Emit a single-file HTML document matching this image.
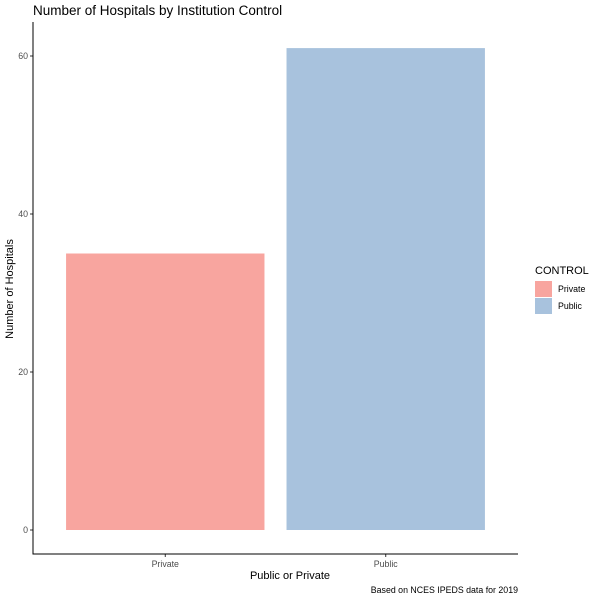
<!DOCTYPE html>
<html><head><meta charset="utf-8"><style>
html,body{margin:0;padding:0;background:#fff;}
svg{display:block;font-family:"Liberation Sans",Arial,sans-serif;}
</style></head><body>
<svg id="chart" width="600" height="600">
<text x="33" y="15" font-size="13.5" fill="#000">Number of Hospitals by Institution Control</text>
<g id="plot"></g>
<text x="290" y="579" font-size="11" text-anchor="middle">Public or Private</text>
<text transform="translate(13,289) rotate(-90)" font-size="11" text-anchor="middle">Number of Hospitals</text>
<text x="518" y="593" font-size="8.8" text-anchor="end">Based on NCES IPEDS data for 2019</text>
<g>
<text x="535" y="274" font-size="11">CONTROL</text>
<g id="legend-items"></g>
</g>
</svg>
<script>
const categories = ["Private", "Public"];
const values = [35, 61];
const colors = ["#F8A59F", "#A8C2DD"];
const yTicks = [0, 20, 40, 60];

const NS = "http://www.w3.org/2000/svg";
const plotG = document.getElementById("plot");
const plotLeft = 33, plotRight = 518, yZero = 530, pxPerUnit = 7.9, plotBottom = 554, plotTop = 22;
function yScale(v){ return yZero - v * pxPerUnit; }
const band = (plotRight - plotLeft) / (categories.length + 0.2);
function xCenter(i){ return plotLeft + band * 0.6 + band * i; }
const barW = band * 0.9;

function mk(tag, attrs){ const e = document.createElementNS(NS, tag); for (const k in attrs) e.setAttribute(k, attrs[k]); return e; }

categories.forEach((c, i) => {
  const r = mk("rect", {x: xCenter(i) - barW/2, y: yScale(values[i]), width: barW, height: yScale(0) - yScale(values[i]), fill: colors[i]});
  
  
  plotG.appendChild(r);
  const t = mk("line", {x1: xCenter(i), x2: xCenter(i), y1: plotBottom, y2: plotBottom + 3, stroke: "#333"});
  
  
  plotG.appendChild(t);
  const l = mk("text", {x: xCenter(i), y: plotBottom + 13, "font-size": "8.8", fill: "#4d4d4d", "text-anchor": "middle"});
  l.textContent = c;
  
  
  plotG.appendChild(l);
});
yTicks.forEach(v => {
  const t = mk("line", {x1: plotLeft - 3, x2: plotLeft, y1: yScale(v), y2: yScale(v), stroke: "#333"});
  
  
  plotG.appendChild(t);
  const l = mk("text", {x: plotLeft - 5, y: yScale(v) + 3, "font-size": "8.8", fill: "#4d4d4d", "text-anchor": "end"});
  l.textContent = v;
  
  
  plotG.appendChild(l);
});
const ax = mk("path", {d: `M${plotLeft},${plotTop} V${plotBottom} H${plotRight}`, fill: "none", stroke: "#000", "stroke-width": "1"});


plotG.appendChild(ax);

const lg = document.getElementById("legend-items");
categories.forEach((c, i) => {
  const r = mk("rect", {x: 535, y: 281 + i * 17, width: 17, height: 16, fill: colors[i]});
  
  
  lg.appendChild(r);
  const t = mk("text", {x: 558, y: 292 + i * 17, "font-size": "8.8"});
  t.textContent = c;
  
  
  lg.appendChild(t);
});
</script>
</body></html>
